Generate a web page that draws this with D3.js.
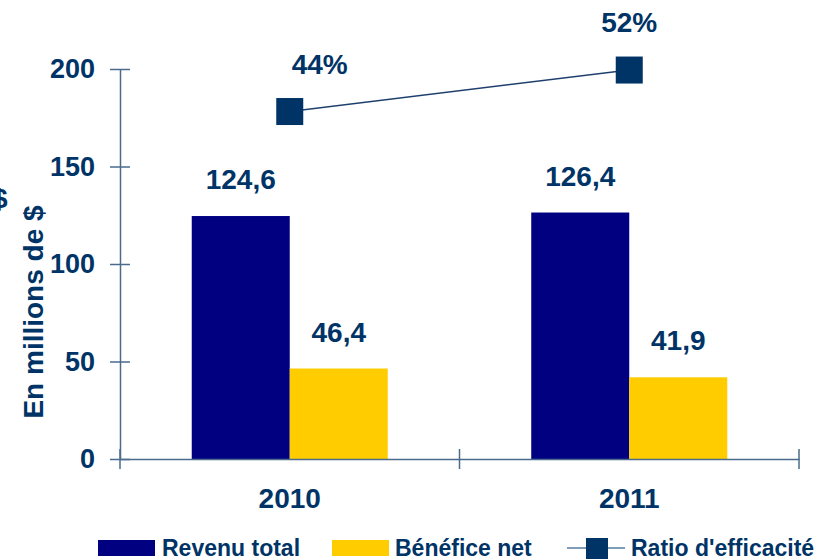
<!DOCTYPE html>
<html>
<head>
<meta charset="utf-8">
<script src="https://cdn.jsdelivr.net/npm/d3@7"></script>
<style>
  body { margin: 0; background: #fff; }
  svg { display: block; font-family: "Liberation Sans", Arial, sans-serif; font-weight: bold; }
</style>
</head>
<body>
<div id="chart"></div>
<script>
// data
var years = ["2010", "2011"];
var series = ["Revenu total", "Bénéfice net"];
var revenu = [124.6, 126.4];
var benefice = [46.4, 41.9];
var ratio = [44, 52];
var yTicks = [0, 50, 100, 150, 200];
var colors = ["#000080", "#FFCC00"];

var width = 822, height = 559;
var textColor = "#003366", axisColor = "#4A6B8C";

var svg = d3.select("#chart")
  .append("svg")
  .attr("width", width)
  .attr("height", height);

var y = d3.scaleLinear().domain([0, 200]).range([459, 69]);
// hidden secondary scale for the ratio line
var yr = d3.scaleLinear().domain([-23, 52.2]).range([459, 69]);

var x0 = d3.scaleBand().domain(years).range([120, 799]).padding(0);
var x1 = d3.scaleBand().domain(series).range([0, x0.bandwidth()])
  .paddingInner(0).paddingOuter(0.732);

var rows = years.map(function(yr, i) {
  return { year: yr, values: [revenu[i], benefice[i]], ratio: ratio[i] };
});

// bars
var groups = svg.selectAll("g.year")
  .data(rows)
  .enter()
  .append("g")
  .attr("class", "year")
  .attr("transform", function(d) { return "translate(" + x0(d.year) + ",0)"; });

groups.selectAll("rect")
  .data(function(d) { return d.values.map(function(v, j) { return { s: series[j], v: v, j: j }; }); })
  .enter()
  .append("rect")
  .attr("x", function(d) { return x1(d.s); })
  .attr("y", function(d) { return y(d.v); })
  .attr("width", x1.bandwidth())
  .attr("height", function(d) { return y(0) - y(d.v); })
  .style("fill", function(d) { return colors[d.j]; });

groups.selectAll("text.val")
  .data(function(d) { return d.values.map(function(v, j) { return { s: series[j], v: v }; }); })
  .enter()
  .append("text")
  .attr("class", "val")
  .attr("x", function(d) { return x1(d.s) + x1.bandwidth() / 2; })
  .attr("y", function(d) { return y(d.v) - 27; })
  .attr("text-anchor", "middle")
  .attr("font-size", "28px")
  .attr("fill", textColor)
  .text(function(d) { return d3.format(".1f")(d.v).replace(".", ","); });

// y axis
var yAxis = svg.append("g")
  .attr("transform", "translate(120,0)")
  .call(d3.axisLeft(y).tickValues(yTicks).tickSize(10).tickSizeOuter(0).tickPadding(15));
yAxis.selectAll(".tick").append("line").attr("x2", 10);
yAxis.selectAll("line").attr("stroke", axisColor).attr("stroke-width", 1.5);
yAxis.select(".domain").attr("stroke", axisColor).attr("stroke-width", 1.5);
yAxis.selectAll("text")
  .attr("font-size", "27px")
  .attr("font-family", "Liberation Sans, Arial, sans-serif")
  .attr("font-weight", "bold")
  .attr("fill", textColor);

// x axis
var xAxis = svg.append("g")
  .attr("transform", "translate(0,459)")
  .call(d3.axisBottom(x0).tickSize(0).tickSizeOuter(0));
xAxis.select(".domain").attr("stroke", axisColor).attr("stroke-width", 1.5);
xAxis.selectAll("text")
  .attr("dy", null)
  .attr("y", 49)
  .attr("font-size", "28px")
  .attr("font-family", "Liberation Sans, Arial, sans-serif")
  .attr("font-weight", "bold")
  .attr("fill", textColor);

var bounds = years.map(function(d) { return x0(d); }).concat([x0(years[years.length - 1]) + x0.bandwidth()]);
xAxis.selectAll("line.sep")
  .data(bounds)
  .enter()
  .append("line")
  .attr("class", "sep")
  .attr("x1", function(d) { return d; })
  .attr("x2", function(d) { return d; })
  .attr("y1", -10)
  .attr("y2", 10)
  .attr("stroke", axisColor)
  .attr("stroke-width", 1.5);

// ratio line
var cx = function(d) { return x0(d.year) + x0.bandwidth() / 2; };
svg.append("path")
  .datum(rows)
  .attr("fill", "none")
  .attr("stroke", "#1F3F6F")
  .attr("stroke-width", 1.5)
  .attr("d", d3.line().x(cx).y(function(d) { return yr(d.ratio); }));

svg.selectAll("rect.marker")
  .data(rows)
  .enter()
  .append("rect")
  .attr("class", "marker")
  .attr("x", function(d) { return cx(d) - 13.5; })
  .attr("y", function(d) { return yr(d.ratio) - 13.5; })
  .attr("width", 27)
  .attr("height", 27)
  .style("fill", "#003366");

var labelDx = [30, 0];
svg.selectAll("text.ratio")
  .data(rows)
  .enter()
  .append("text")
  .attr("class", "ratio")
  .attr("x", function(d, i) { return cx(d) + labelDx[i]; })
  .attr("y", function(d) { return yr(d.ratio) - 38; })
  .attr("text-anchor", "middle")
  .attr("font-size", "28px")
  .attr("fill", textColor)
  .text(function(d) { return d.ratio + "%"; });

// y title
svg.append("text")
  .attr("transform", "translate(43,312) rotate(-90)")
  .attr("text-anchor", "middle")
  .attr("font-size", "28px")
  .attr("fill", textColor)
  .text("En millions de $");

// clipped leftover at the edge
svg.append("text")
  .attr("x", -8)
  .attr("y", 208)
  .attr("font-size", "28px")
  .attr("fill", textColor)
  .text("$");

// legend
var legend = svg.append("g");
legend.append("rect").attr("x", 98).attr("y", 540).attr("width", 57).attr("height", 16).style("fill", colors[0]);
legend.append("text").attr("x", 162).attr("y", 556).attr("font-size", "23px").attr("fill", textColor).text(series[0]);
legend.append("rect").attr("x", 332).attr("y", 540).attr("width", 57).attr("height", 16).style("fill", colors[1]);
legend.append("text").attr("x", 395).attr("y", 556).attr("font-size", "23px").attr("fill", textColor).text(series[1]);
legend.append("line").attr("x1", 567).attr("x2", 625).attr("y1", 548).attr("y2", 548)
  .attr("stroke", "#7F9DB9").attr("stroke-width", 2);
legend.append("rect").attr("x", 586).attr("y", 538).attr("width", 22).attr("height", 22).style("fill", "#003366");
legend.append("text").attr("x", 631).attr("y", 556).attr("font-size", "23px").attr("fill", textColor).text("Ratio d'efficacité");
</script>
</body>
</html>
